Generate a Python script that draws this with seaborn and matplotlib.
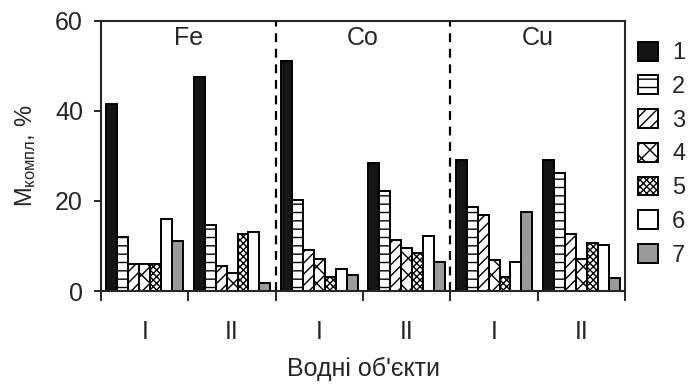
import pandas as pd
import seaborn as sns
import matplotlib.pyplot as plt
from matplotlib.patches import Patch

# Values (%, complexed metal fraction)
metals = ['Fe', 'Co', 'Cu']
objects = ['I', 'II']
series = ['1', '2', '3', '4', '5', '6', '7']

s1 = [41.6, 47.6, 51.0, 28.4, 29.2, 29.2]
s2 = [11.9, 14.6, 20.3, 22.2, 18.7, 26.2]
s3 = [5.9, 5.6, 9.1, 11.4, 16.9, 12.6]
s4 = [5.9, 3.9, 7.2, 9.5, 6.8, 7.2]
s5 = [5.9, 12.6, 3.2, 8.4, 3.2, 10.6]
s6 = [16.1, 13.2, 4.9, 12.2, 6.4, 10.2]
s7 = [11.1, 1.7, 3.6, 6.4, 17.6, 2.8]

colors = ['#151515', 'white', 'white', 'white', 'white', 'white', '#9a9a9a']
hatches = [None, '--', '///', 'xx', 'xxxxx', None, None]

groups = [f'{m} {o}' for m in metals for o in objects]
rows = []
for name, vals in zip(series, [s1, s2, s3, s4, s5, s6, s7]):
    for g, v in zip(groups, vals):
        rows.append({'group': g, 'series': name, 'value': v})
df = pd.DataFrame(rows)

sns.set_style('ticks')
plt.rcParams['font.family'] = ['Liberation Sans', 'DejaVu Sans']
plt.rcParams['mathtext.fontset'] = 'custom'
plt.rcParams['mathtext.rm'] = 'Liberation Sans'
plt.rcParams['hatch.linewidth'] = 1.0

fig = plt.figure(figsize=(6.91, 3.87), dpi=100)
ax = fig.add_axes([0.1462, 0.248, 0.7583, 0.698])

sns.barplot(
    data=df, x='group', y='value', hue='series', order=groups,
    hue_order=series, palette=dict(zip(series, colors)),
    width=0.88, edgecolor='black', linewidth=1.4, legend=False, ax=ax,
    errorbar=None,
)
for i, cont in enumerate(ax.containers):
    for bar in cont:
        if hatches[i]:
            bar.set_hatch(hatches[i])

ax.set_xlim(-0.5, len(groups) - 0.5)
ax.set_ylim(0, 60)
ax.set_yticks([0, 20, 40, 60])
ax.set_xticks(range(len(groups)))
ax.set_xticklabels(objects * len(metals))
ax.set_xticks([i - 0.5 for i in range(len(groups) + 1)], minor=True)
ax.tick_params(axis='x', which='major', length=0, pad=21, labelsize=18)
ax.tick_params(axis='x', which='minor', length=7, width=1.4)
ax.tick_params(axis='y', length=5, width=1.4, labelsize=18, pad=8)
for sp in ax.spines.values():
    sp.set_linewidth(1.5)

for k in range(1, len(metals)):
    ax.axvline(2 * k - 0.5, color='black', linestyle=(0, (4, 3)), linewidth=1.6)
for k, m in enumerate(metals):
    ax.text(2 * k + 0.5, 56.3, m, ha='center', va='center', fontsize=18)

ax.set_xlabel("Водні об'єкти", fontsize=18, labelpad=9)
ax.set_ylabel(r'$\mathregular{M_{компл}}$, %', fontsize=17, labelpad=12)

handles = [Patch(facecolor=c, edgecolor='black', hatch=h, linewidth=1.4)
           for c, h in zip(colors, hatches)]
fig.legend(handles, series, loc='upper left', bbox_to_anchor=(0.923, 0.892),
           frameon=False, fontsize=17, handlelength=0.85, handleheight=0.85,
           labelspacing=0.47, handletextpad=0.6, borderpad=0,
           borderaxespad=0)

plt.savefig('out.png', dpi=100)
plt.close()
